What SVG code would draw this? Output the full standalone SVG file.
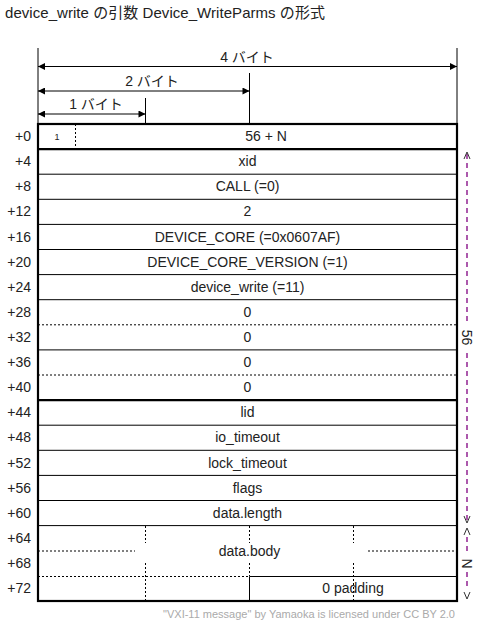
<svg xmlns="http://www.w3.org/2000/svg" width="482" height="627" viewBox="0 0 482 627">
<defs>
<style>
text{font-family:"Liberation Sans","Noto Sans CJK JP",sans-serif;font-size:14px;fill:#222}
.c{text-anchor:middle}
.r{text-anchor:end}
.thin{stroke:#000;stroke-width:1;fill:none}
.thick{stroke:#000;stroke-width:2.2;fill:none}
.dot{stroke:#000;stroke-width:1;stroke-dasharray:2,2;fill:none}
.dim{stroke:#000;stroke-width:1;fill:none}
.br{stroke:#800080;stroke-width:1.3;stroke-dasharray:5,4;fill:none}
.chev{stroke:#333;stroke-width:1;fill:none}
.foot{font-size:11px;fill:#aaa}
</style>
<marker id="ah" viewBox="0 0 10 10" refX="10" refY="5" markerWidth="9" markerHeight="7" markerUnits="userSpaceOnUse" orient="auto-start-reverse">
<path d="M0,0 L10,5 L0,10 z" fill="#000"/>
</marker>
</defs>
<rect width="482" height="627" fill="#fff"/>
<text x="5" y="18" style="font-size:15px" textLength="320" lengthAdjust="spacing">device_write の引数 Device_WriteParms の形式</text>

<g id="dimensions">
<line class="dim" x1="38" y1="48" x2="38" y2="124"/>
<line class="dim" x1="457" y1="48" x2="457" y2="124"/>
<line class="dim" x1="249.5" y1="73" x2="249.5" y2="124"/>
<line class="dim" x1="145.5" y1="98" x2="145.5" y2="124"/>
<line class="dim" x1="38" y1="66.5" x2="457" y2="66.5" marker-start="url(#ah)" marker-end="url(#ah)"/>
<line class="dim" x1="38" y1="91" x2="249.5" y2="91" marker-start="url(#ah)" marker-end="url(#ah)"/>
<line class="dim" x1="38" y1="114" x2="145.5" y2="114" marker-start="url(#ah)" marker-end="url(#ah)"/>
<text class="c" x="247" y="62">4 バイト</text>
<text class="c" x="152" y="86">2 バイト</text>
<text class="c" x="96" y="109">1 バイト</text>
</g>

<g id="offsets">
<text class="r" x="31" y="141">+0</text>
<text class="r" x="31" y="166">+4</text>
<text class="r" x="31" y="191">+8</text>
<text class="r" x="31" y="216">+12</text>
<text class="r" x="31" y="242">+16</text>
<text class="r" x="31" y="267">+20</text>
<text class="r" x="31" y="292">+24</text>
<text class="r" x="31" y="317">+28</text>
<text class="r" x="31" y="342">+32</text>
<text class="r" x="31" y="367">+36</text>
<text class="r" x="31" y="392">+40</text>
<text class="r" x="31" y="417">+44</text>
<text class="r" x="31" y="442">+48</text>
<text class="r" x="31" y="468">+52</text>
<text class="r" x="31" y="493">+56</text>
<text class="r" x="31" y="518">+60</text>
<text class="r" x="31" y="543">+64</text>
<text class="r" x="31" y="568">+68</text>
<text class="r" x="31" y="593">+72</text>
</g>

<g id="row-lines">
<line class="thin" x1="38" y1="174.2" x2="457" y2="174.2"/>
<line class="thin" x1="38" y1="199.3" x2="457" y2="199.3"/>
<line class="thin" x1="38" y1="224.4" x2="457" y2="224.4"/>
<line class="thin" x1="38" y1="249.5" x2="457" y2="249.5"/>
<line class="thin" x1="38" y1="274.6" x2="457" y2="274.6"/>
<line class="thin" x1="38" y1="299.7" x2="457" y2="299.7"/>
<line class="dot" x1="38" y1="324.8" x2="457" y2="324.8"/>
<line class="thin" x1="38" y1="349.9" x2="457" y2="349.9"/>
<line class="dot" x1="38" y1="375" x2="457" y2="375"/>
<line class="thin" x1="38" y1="425.2" x2="457" y2="425.2"/>
<line class="thin" x1="38" y1="450.3" x2="457" y2="450.3"/>
<line class="thin" x1="38" y1="475.4" x2="457" y2="475.4"/>
<line class="thin" x1="38" y1="500.5" x2="457" y2="500.5"/>
<line class="thin" x1="38" y1="525.6" x2="457" y2="525.6"/>
<line class="thick" x1="38" y1="149.1" x2="457" y2="149.1"/>
<line class="thick" x1="38" y1="400.1" x2="457" y2="400.1"/>
</g>

<g id="row-0">
<line class="dot" x1="75.5" y1="124" x2="75.5" y2="149"/>
<text class="c" x="57" y="140" style="font-size:9px">1</text>
<text class="c" x="266" y="141">56 + N</text>
</g>
<g id="row-xid"><text class="c" x="247.5" y="166">xid</text></g>
<g id="row-call"><text class="c" x="247.5" y="191">CALL (=0)</text></g>
<g id="row-2"><text class="c" x="247.5" y="216">2</text></g>
<g id="row-core"><text class="c" x="247.5" y="242">DEVICE_CORE (=0x0607AF)</text></g>
<g id="row-ver"><text class="c" x="247.5" y="267">DEVICE_CORE_VERSION (=1)</text></g>
<g id="row-proc"><text class="c" x="247.5" y="292">device_write (=11)</text></g>
<g id="row-z1"><text class="c" x="247.5" y="317">0</text></g>
<g id="row-z2"><text class="c" x="247.5" y="342">0</text></g>
<g id="row-z3"><text class="c" x="247.5" y="367">0</text></g>
<g id="row-z4"><text class="c" x="247.5" y="392">0</text></g>
<g id="row-lid"><text class="c" x="247.5" y="417">lid</text></g>
<g id="row-io"><text class="c" x="247.5" y="442">io_timeout</text></g>
<g id="row-lock"><text class="c" x="247.5" y="468">lock_timeout</text></g>
<g id="row-flags"><text class="c" x="247.5" y="493">flags</text></g>
<g id="row-len"><text class="c" x="247.5" y="518">data.length</text></g>

<g id="data-body">
<line class="dot" x1="145.5" y1="526" x2="145.5" y2="543"/>
<line class="dot" x1="145.5" y1="563" x2="145.5" y2="601"/>
<line class="dot" x1="249.5" y1="526" x2="249.5" y2="543"/>
<line class="dot" x1="249.5" y1="563" x2="249.5" y2="576"/>
<line class="dot" x1="353.5" y1="526" x2="353.5" y2="543"/>
<line class="dot" x1="353.5" y1="563" x2="353.5" y2="601"/>
<line class="dot" x1="38" y1="551" x2="135" y2="551"/>
<line class="dot" x1="368" y1="551" x2="457" y2="551"/>
<line class="dot" x1="38" y1="576.5" x2="249.5" y2="576.5"/>
<text class="c" x="249.5" y="556">data.body</text>
</g>
<g id="padding">
<line class="thin" x1="249.5" y1="576.5" x2="457" y2="576.5"/>
<line class="thin" x1="249.5" y1="576.5" x2="249.5" y2="601"/>
<text class="c" x="353" y="593">0 padding</text>
</g>

<g id="frame">
<rect class="thick" x="38" y="124" width="419" height="477"/>
</g>

<g id="bracket-56">
<line class="br" x1="467" y1="154" x2="467" y2="322"/>
<line class="br" x1="467" y1="353" x2="467" y2="521"/>
<polyline class="chev" points="464,159 467,152 470,159"/>
<polyline class="chev" points="464,516 467,523 470,516"/>
<text class="c" transform="translate(462,337.5) rotate(90)">56</text>
</g>
<g id="bracket-N">
<line class="br" x1="467" y1="537" x2="467" y2="555"/>
<line class="br" x1="467" y1="572" x2="467" y2="590"/>
<polyline class="chev" points="464,535 467,528 470,535"/>
<polyline class="chev" points="464,592 467,599 470,592"/>
<text class="c" transform="translate(462,563.5) rotate(90)">N</text>
</g>

<text class="foot" x="455" y="618" text-anchor="end">"VXI-11 message" by Yamaoka is licensed under CC BY 2.0</text>
</svg>
